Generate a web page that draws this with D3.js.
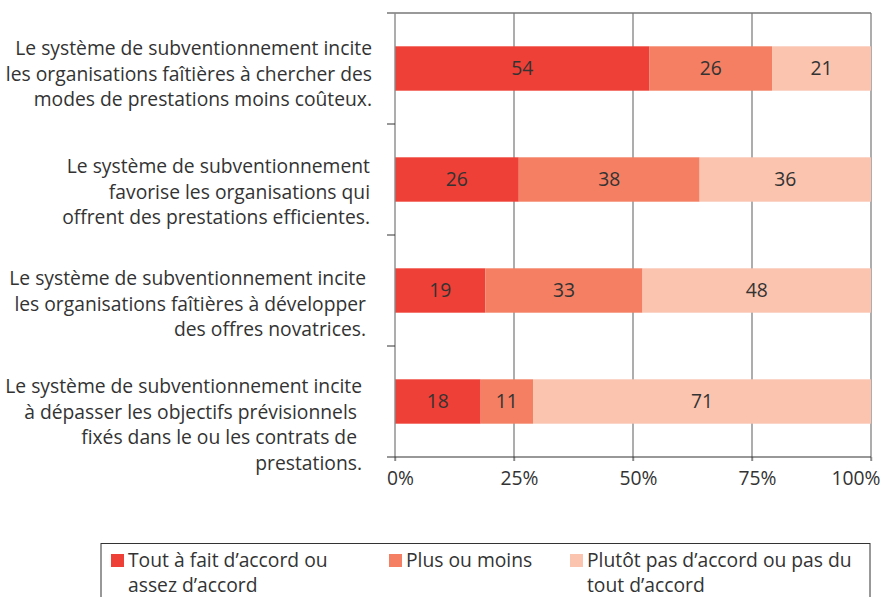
<!DOCTYPE html>
<html>
<head>
<meta charset="utf-8">
<script src="https://cdn.jsdelivr.net/npm/d3@7/dist/d3.min.js"></script>
<style>
  body { margin: 0; background: #fff; }
  svg text { font-family: "Open Sans", "Noto Sans", sans-serif; fill: #333; }
</style>
</head>
<body>
<svg id="chart" width="881" height="597"></svg>
<script>
// data
const categories = [
  ["Le système de subventionnement incite", "les organisations faîtières à chercher des", "modes de prestations moins coûteux."],
  ["Le système de subventionnement", "favorise les organisations qui", "offrent des prestations efficientes."],
  ["Le système de subventionnement incite", "les organisations faîtières à développer", "des offres novatrices."],
  ["Le système de subventionnement incite", "à dépasser les objectifs prévisionnels ", "fixés dans le ou les contrats de ", "prestations."]
];
const seriesNames = ["Tout à fait d’accord ou assez d’accord", "Plus ou moins", "Plutôt pas d’accord ou pas du tout d’accord"];
const agree = [54, 26, 19, 18];
const neutral = [26, 38, 33, 11];
const disagree = [21, 36, 48, 71];
const tickValues = [0, 0.25, 0.5, 0.75, 1];
const tickLabels = ["0%", "25%", "50%", "75%", "100%"];

// layout
const colors = ["#ee4036", "#f47f62", "#fac4af"];
const labelPos = [{ x: 372, dy: -13.5 }, { x: 370, dy: -6.5 }, { x: 366, dy: -5.5 }, { x: 362, dy: -8.5 }];
const legendLines = [["Tout à fait d’accord ou", "assez d’accord"], ["Plus ou moins"], ["Plutôt pas d’accord ou pas du", "tout d’accord"]];
const legendX = [111, 389, 570];
const fontSize = 19.3;
const lineHeight = 25.5;

const keys = ["agree", "neutral", "disagree"];
const rows = categories.map((c, i) => ({ id: i, agree: agree[i], neutral: neutral[i], disagree: disagree[i] }));
const stacked = d3.stack().keys(keys).offset(d3.stackOffsetExpand)(rows);

const svg = d3.select("#chart");
const x = d3.scaleLinear().domain([0, 1]).range([395, 871]);
const y = d3.scaleBand().domain(rows.map(d => d.id)).range([13, 457]).paddingInner(0.6).paddingOuter(0.3);

// gridlines
svg.append("g")
  .selectAll("line")
  .data(tickValues.slice(1))
  .join("line")
  .attr("x1", d => x(d)).attr("x2", d => x(d))
  .attr("y1", 13).attr("y2", 461)
  .attr("stroke", "#8a8a8a").attr("stroke-width", 1.4);

// top line
svg.append("line")
  .attr("x1", 387).attr("x2", 871).attr("y1", 13).attr("y2", 13)
  .attr("stroke", "#777").attr("stroke-width", 1.4);

// bars
const layer = svg.append("g")
  .selectAll("g")
  .data(stacked)
  .join("g")
  .attr("fill", (d, i) => colors[i]);

layer.selectAll("rect")
  .data(d => d)
  .join("rect")
  .attr("x", d => x(d[0]))
  .attr("width", d => x(d[1]) - x(d[0]))
  .attr("y", d => y(d.data.id))
  .attr("height", y.bandwidth());

// bar labels
layer.each(function (s) {
  d3.select(this).selectAll("text")
    .data(s)
    .join("text")
    .attr("x", d => (x(d[0]) + x(d[1])) / 2)
    .attr("y", d => y(d.data.id) + y.bandwidth() / 2)
    .attr("dy", "0.35em")
    .attr("text-anchor", "middle")
    .attr("font-size", fontSize)
    .text(d => d.data[s.key]);
});

// left axis with ticks between categories
svg.append("line")
  .attr("x1", 395).attr("x2", 395).attr("y1", 13).attr("y2", 461)
  .attr("stroke", "#8a8a8a").attr("stroke-width", 1.4);
svg.append("g")
  .selectAll("line")
  .data(d3.range(1, rows.length))
  .join("line")
  .attr("x1", 387).attr("x2", 395)
  .attr("y1", i => y(i) - y.step() * y.paddingInner() / 2)
  .attr("y2", i => y(i) - y.step() * y.paddingInner() / 2)
  .attr("stroke", "#333").attr("stroke-width", 1);

// bottom axis
const xAxis = svg.append("g")
  .attr("transform", "translate(0,457)")
  .call(d3.axisBottom(x).tickValues(tickValues).tickFormat((d, i) => tickLabels[i]).tickSize(4).tickSizeOuter(0));
xAxis.select(".domain").remove();
xAxis.selectAll(".tick line").attr("stroke", "#8a8a8a").attr("stroke-width", 1.4);
xAxis.selectAll(".tick text")
  .attr("font-size", fontSize).attr("font-family", null).attr("fill", "#333")
  .attr("y", 14).attr("dy", "0.71em")
  .attr("x", (d, i) => i === tickValues.length - 1 ? 9 : 5)
  .attr("text-anchor", (d, i) => i === tickValues.length - 1 ? "end" : "middle");
xAxis.append("line")
  .attr("x1", 387).attr("x2", 871).attr("y1", 0).attr("y2", 0)
  .attr("stroke", "#333").attr("stroke-width", 1.2);

// category labels
categories.forEach((lines, i) => {
  const cy = y(i) + y.bandwidth() / 2;
  const block = svg.append("text")
    .attr("text-anchor", "end")
    .attr("font-size", fontSize)
    .style("white-space", "pre");
  lines.forEach((t, j) => {
    block.append("tspan")
      .attr("x", labelPos[i].x)
      .attr("y", cy + labelPos[i].dy + j * lineHeight)
      .text(t);
  });
});

// legend
svg.append("rect")
  .attr("x", 101).attr("y", 543.5).attr("width", 769).attr("height", 70)
  .attr("fill", "none").attr("stroke", "#333").attr("stroke-width", 1);
legendLines.forEach((lines, i) => {
  svg.append("rect")
    .attr("x", legendX[i]).attr("y", 554).attr("width", 13).attr("height", 13)
    .attr("fill", colors[i]);
  const t = svg.append("text").attr("font-size", fontSize).attr("aria-label", seriesNames[i]);
  lines.forEach((l, j) => {
    t.append("tspan").attr("x", legendX[i] + 17).attr("y", 567 + j * 25).text(l);
  });
});
</script>
</body>
</html>
